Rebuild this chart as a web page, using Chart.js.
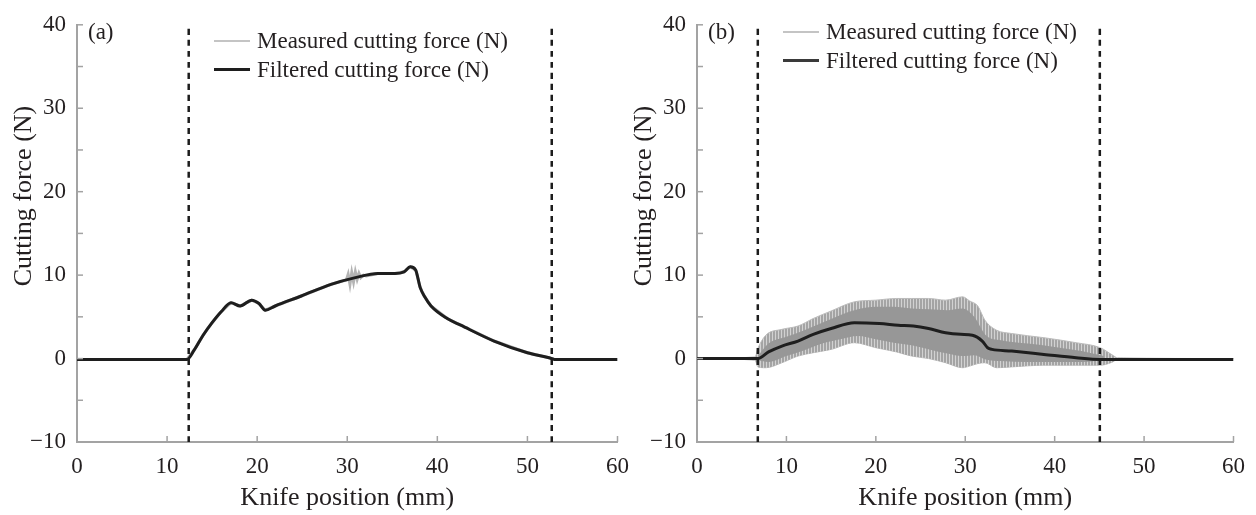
<!DOCTYPE html>
<html lang="en">
<head>
    <meta charset="UTF-8">
    <title>Cutting force vs knife position</title>
    <script src="https://cdn.jsdelivr.net/npm/chart.js"></script>
    <style>
        body {
            margin: 0;
            width: 1256px;
            height: 515px;
            background: #ffffff;
            position: relative;
            overflow: hidden;
            font-family: "Liberation Serif", "DejaVu Serif", serif;
            color: #231f20;
        }
        .panel {
            position: absolute;
            top: 0;
        }
        .legend {
            position: absolute;
            font-size: 23px;
            line-height: 29px;
            white-space: nowrap;
        }
        .legend .row {
            display: flex;
            align-items: center;
        }
        .legend .swatch {
            width: 36px;
            margin-right: 7px;
        }
    </style>
</head>
<body>
    <canvas id="chartA" class="panel" width="640" height="515" style="left:0px"></canvas>
    <canvas id="chartB" class="panel" width="636" height="515" style="left:620px"></canvas>
    <div id="legendA" class="legend" style="left:214px; top:26px"></div>
    <div id="legendB" class="legend" style="left:783px; top:17px"></div>

    <script>
        // (a) filtered force
        const filteredA_x = [0, 5, 10, 12.2, 13, 14, 15, 16, 17.1, 18.1, 19.4, 20.2, 20.9, 22, 24.9, 28.2, 30.9, 33.4, 35.3, 36.3, 37.0, 37.6, 38.1, 38.6, 39.3, 41.1, 42.6, 46.3, 50.0, 52.4, 53, 60];
        const filteredA_y = [-0.1, -0.1, -0.1, -0.1, 1.0, 2.8, 4.3, 5.6, 6.7, 6.3, 7.0, 6.6, 5.8, 6.3, 7.5, 8.9, 9.7, 10.2, 10.2, 10.4, 11.0, 10.6, 8.5, 7.4, 6.3, 4.8, 4.0, 2.1, 0.7, 0.1, -0.1, -0.1];

        // (a) measured force (same as filtered except a noisy patch around 30-32 mm)
        const measuredA_x = [0, 5, 10, 12.2, 13, 14, 15, 16, 17.1, 18.1, 19.4, 20.2, 20.9, 22, 24.9, 28.2, 29.9, 30.1, 30.3, 30.5, 30.7, 30.9, 31.1, 31.3, 31.5, 31.8, 32.1, 33.4, 35.3, 36.3, 37.0, 37.6, 38.1, 38.6, 39.3, 41.1, 42.6, 46.3, 50.0, 52.4, 53, 60];
        const measuredA_y = [-0.1, -0.1, -0.1, -0.1, 1.0, 2.8, 4.3, 5.6, 6.7, 6.3, 7.0, 6.6, 5.8, 6.3, 7.5, 8.9, 9.4, 10.1, 8.9, 10.3, 9.2, 10.4, 9.5, 10.2, 9.7, 10.0, 9.9, 10.2, 10.2, 10.4, 11.0, 10.6, 8.5, 7.4, 6.3, 4.8, 4.0, 2.1, 0.7, 0.1, -0.1, -0.1];

        // (b) filtered force
        const filteredB_x = [0, 5, 6.8, 8, 9.5, 11.3, 13, 15, 17.6, 20.4, 22.5, 24.2, 25.9, 27.8, 29.5, 30.8, 31.9, 32.5, 33.0, 35.2, 38.8, 42.4, 45.1, 50, 60];
        const filteredB_y = [0, 0, 0, 0.8, 1.5, 2.1, 2.9, 3.6, 4.3, 4.2, 4.0, 3.9, 3.6, 3.1, 2.9, 2.8, 2.1, 1.3, 1.1, 0.9, 0.5, 0.1, -0.1, -0.1, -0.1];

        // (b) measured force, outer oscillation envelope
        const measuredB_x = [0, 6.5, 6.8, 7.7, 9.5, 11.3, 13, 15, 17.6, 20, 22.3, 24, 25.9, 27.8, 29.7, 30.5, 31.4, 32.2, 33.5, 35.2, 38.8, 42.4, 45.1, 46.5, 47, 60];
        const measuredB_hi = [0, 0.2, 1.2, 2.8, 3.5, 3.9, 4.8, 5.7, 6.8, 7.0, 7.2, 7.2, 7.2, 7.0, 7.4, 6.9, 6.3, 4.6, 3.4, 3.0, 2.5, 1.9, 1.3, 0.4, 0.1, 0];
        const measuredB_lo = [0, -0.2, -1.0, -1.1, -0.5, 0.3, 0.7, 1.1, 1.9, 1.3, 0.8, 0.3, 0, -0.5, -1.1, -0.9, -0.6, -0.5, -1.1, -1.0, -0.8, -0.8, -0.8, -0.4, -0.1, 0];

        // (b) measured force, dense core of the oscillation
        const coreB_x = [6.8, 8, 10, 12, 14, 16, 18, 20, 22, 24, 26, 28, 29.7, 31, 32.3, 34, 37, 40, 43, 45.5];
        const coreB_hi = [0.3, 1.8, 2.6, 3.4, 4.3, 5.2, 5.9, 6.2, 6.2, 6.0, 5.9, 5.8, 6.0, 5.0, 2.8, 2.2, 1.8, 1.4, 0.9, 0.3];
        const coreB_lo = [-0.2, -0.4, 0.3, 1.0, 1.8, 2.3, 2.7, 2.3, 1.9, 1.6, 1.1, 0.6, 0.3, 0.4, -0.1, -0.3, -0.4, -0.4, -0.4, -0.2];

        // cut start / end markers
        const cutMarksA = [12.4, 52.7];
        const cutMarksB = [6.8, 45.05];

        const xTicks = [0, 10, 20, 30, 40, 50, 60];
        const yTicks = [-10, 0, 10, 20, 30, 40];

        const textColor = '#231f20';
        const axisColor = '#a3a3a3';
        const fontFamily = '"Liberation Serif", "DejaVu Serif", serif';

        function toPoints(xs, ys) {
            return xs.map((x, i) => ({x: x, y: ys[i]}));
        }

        function markerSets(marks) {
            return marks.map(m => ({
                label: 'cut',
                data: [{x: m, y: yTicks[0]}, {x: m, y: yTicks[yTicks.length - 1]}],
                borderColor: '#1c1c1c',
                borderWidth: 2.5,
                borderDash: [6, 5],
                pointRadius: 0,
                showLine: true
            }));
        }

        // vertical hatching for the sparse fringe of the raw signal
        function hatch() {
            const c = document.createElement('canvas');
            c.width = 3;
            c.height = 4;
            const g = c.getContext('2d');
            g.fillStyle = '#a4a4a4';
            g.fillRect(0, 0, 2, 4);
            g.fillStyle = '#d2d2d2';
            g.fillRect(2, 0, 1, 4);
            return g.createPattern(c, 'repeat');
        }

        // inward tick marks on both axes
        const innerTicks = {
            id: 'innerTicks',
            afterDraw(chart) {
                const {ctx, scales: {x, y}} = chart;
                ctx.save();
                ctx.strokeStyle = axisColor;
                ctx.lineWidth = 1.5;
                y.ticks.forEach(t => {
                    if (t.value === y.min) return;
                    const py = y.getPixelForValue(t.value);
                    ctx.beginPath();
                    ctx.moveTo(y.right, py);
                    ctx.lineTo(y.right + 6, py);
                    ctx.stroke();
                });
                x.ticks.forEach(t => {
                    if (t.value === x.min) return;
                    const px = x.getPixelForValue(t.value);
                    ctx.beginPath();
                    ctx.moveTo(px, x.top);
                    ctx.lineTo(px, x.top - 6);
                    ctx.stroke();
                });
                ctx.restore();
            }
        };

        // "(a)" / "(b)" tag and the y axis title
        const panelText = {
            id: 'panelText',
            afterDraw(chart, args, opts) {
                const {ctx, chartArea} = chart;
                ctx.save();
                ctx.fillStyle = textColor;
                ctx.font = '23px ' + fontFamily;
                ctx.textBaseline = 'middle';
                ctx.fillText(opts.tag, chartArea.left + 11, chartArea.top + 8);
                ctx.font = '26px ' + fontFamily;
                ctx.textAlign = 'center';
                ctx.translate(24, 196);
                ctx.rotate(-Math.PI / 2);
                ctx.fillText(opts.yTitle, 0, 0);
                ctx.restore();
            }
        };

        function makeOptions(tag, padRight) {
            return {
                responsive: false,
                animation: false,
                layout: {padding: {left: 0, top: 15, right: padRight, bottom: 0}},
                elements: {line: {cubicInterpolationMode: 'monotone'}},
                plugins: {
                    legend: {display: false},
                    tooltip: {enabled: false},
                    panelText: {tag: tag, yTitle: 'Cutting force (N)'}
                },
                scales: {
                    x: {
                        type: 'linear',
                        min: 0,
                        max: 60,
                        afterFit: s => { s.height = 73; },
                        afterBuildTicks: s => { s.ticks = xTicks.map(v => ({value: v})); },
                        grid: {display: false, drawTicks: false, tickLength: 0},
                        border: {display: true, color: axisColor, width: 2},
                        ticks: {
                            color: textColor,
                            padding: 11,
                            maxRotation: 0,
                            font: {family: fontFamily, size: 23}
                        },
                        title: {
                            display: true,
                            text: 'Knife position (mm)',
                            color: textColor,
                            padding: {top: 0, bottom: 1},
                            font: {family: fontFamily, size: 26}
                        }
                    },
                    y: {
                        type: 'linear',
                        min: -10,
                        max: 40,
                        afterFit: s => { s.width = 77; },
                        grid: {display: false, drawTicks: false, tickLength: 0},
                        border: {display: true, color: axisColor, width: 2},
                        ticks: {
                            stepSize: 5,
                            autoSkip: false,
                            color: textColor,
                            padding: 11,
                            font: {family: fontFamily, size: 23},
                            callback: v => yTicks.includes(v) ? (v < 0 ? '\u2212' + Math.abs(v) : String(v)) : ''
                        }
                    }
                }
            };
        }

        function buildLegend(el, rows) {
            rows.forEach(d => {
                const row = document.createElement('div');
                row.className = 'row';
                const sw = document.createElement('span');
                sw.className = 'swatch';
                sw.style.borderTop = d.legendWidth + 'px solid ' + d.legendColor;
                row.appendChild(sw);
                const tx = document.createElement('span');
                tx.textContent = d.label;
                row.appendChild(tx);
                el.appendChild(row);
            });
        }

        function band(label, xs, ys, fill, border) {
            return {
                label: label,
                data: toPoints(xs, ys),
                borderColor: border,
                backgroundColor: fill,
                borderWidth: border ? 1 : 0,
                pointRadius: 0,
                showLine: true,
                fill: fill ? '+1' : false
            };
        }

        document.addEventListener('DOMContentLoaded', function() {
            // first dataset is painted last, so markers and filtered sit on top
            const filteredA = {
                label: 'Filtered cutting force (N)',
                data: toPoints(filteredA_x, filteredA_y),
                borderColor: '#1e1e1e',
                borderWidth: 3,
                pointRadius: 0,
                showLine: true,
                legendColor: '#1e1e1e',
                legendWidth: 3
            };
            const measuredA = {
                label: 'Measured cutting force (N)',
                data: toPoints(measuredA_x, measuredA_y),
                borderColor: '#b4b4b4',
                borderWidth: 3,
                pointRadius: 0,
                showLine: true,
                cubicInterpolationMode: 'default',
                tension: 0,
                legendColor: '#c4c4c4',
                legendWidth: 2
            };
            new Chart(document.getElementById('chartA'), {
                type: 'scatter',
                data: {datasets: [...markerSets(cutMarksA), filteredA, measuredA]},
                options: makeOptions('(a)', 19),
                plugins: [innerTicks, panelText]
            });

            const filteredB = {
                label: 'Filtered cutting force (N)',
                data: toPoints(filteredB_x, filteredB_y),
                borderColor: '#1e1e1e',
                borderWidth: 3,
                pointRadius: 0,
                showLine: true,
                legendColor: '#3a3a3a',
                legendWidth: 3
            };
            const measuredB = band('Measured cutting force (N)', measuredB_x, measuredB_hi, hatch(), '#bcbcbc');
            measuredB.legendColor = '#c4c4c4';
            measuredB.legendWidth = 2;
            new Chart(document.getElementById('chartB'), {
                type: 'scatter',
                data: {
                    datasets: [
                        ...markerSets(cutMarksB),
                        filteredB,
                        band('core high', coreB_x, coreB_hi, '#979797', null),
                        band('core low', coreB_x, coreB_lo, null, null),
                        measuredB,
                        band('measured low', measuredB_x, measuredB_lo, null, '#bcbcbc')
                    ]
                },
                options: makeOptions('(b)', 13),
                plugins: [innerTicks, panelText]
            });

            buildLegend(document.getElementById('legendA'), [measuredA, filteredA]);
            buildLegend(document.getElementById('legendB'), [measuredB, filteredB]);
        });
    </script>
</body>
</html>
